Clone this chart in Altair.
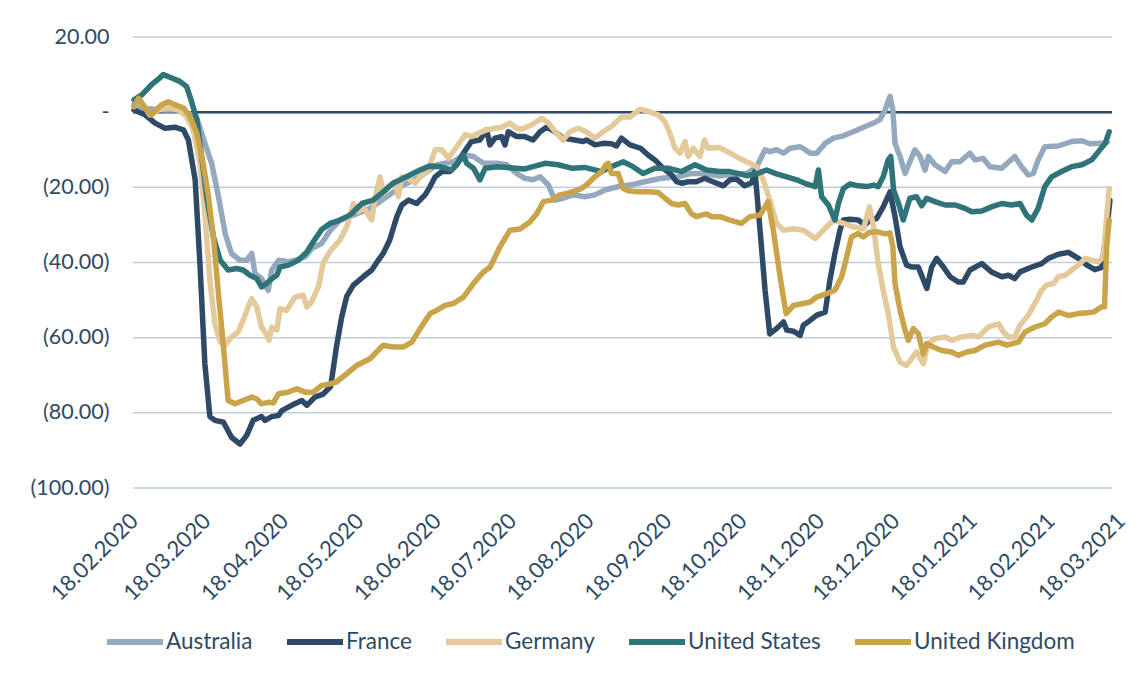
import altair as alt
import pandas as pd

START = pd.Timestamp("2020-02-18")
TEXT = "#2E4A66"

series_names = ["Australia", "France", "Germany", "United States", "United Kingdom"]
series_colors = ["#95A9BE", "#2E4A66", "#E4C99B", "#2E7479", "#C9A44B"]

# days after 18.02.2020
aus_days = [0, 4.4, 12.4, 17.7, 21.7, 25.1, 28.3, 31.0, 33.7, 36.4, 38.9, 42.3, 45.0, 47.0, 48.3, 50.9, 53.6, 55.0,
            57.7, 61.6, 64.3, 68.3, 70.9, 74.9, 78.3, 82.2, 87.6, 94.2, 100.9, 107.6, 114.2, 120.9, 127.5, 131.5,
            135.5, 139.5, 144.9, 148.8, 152.8, 156.0, 159.3, 162.1, 165.4, 168.0, 171.3, 175.3, 179.9, 184.0, 188.0,
            193.3, 198.0, 203.9, 210.6, 217.3, 222.5, 227.8, 233.7, 240.6, 244.6, 248.6, 251.9, 253.8, 256.5, 259.3,
            261.9, 265.9, 267.9, 269.9, 272.6, 275.9, 279.2, 283.2, 287.1, 291.2, 295.2, 297.8, 299.8, 301.8, 302.9,
            303.8, 305.8, 307.8, 311.7, 313.8, 315.8, 317.1, 319.7, 323.8, 326.4, 329.7, 333.7, 335.7, 339.0, 341.7,
            346.4, 351.6, 354.3, 357.0, 359.0, 360.9, 363.6, 369.0, 374.3, 378.4, 381.6, 386.3, 388.5]
aus_vals = [2, 1, 0.6, 0.6, -0.3, -1.6, -8.3, -13.6, -22.5, -32.3, -37.6, -39.4, -39.4, -37.6, -42.9, -44.3, -47.4, -42,
            -39.4, -39.8, -39.4, -38.5, -36.3, -34.9, -31.5, -28.7, -27.4, -25.6, -22.5, -19.4, -17.2, -14, -13.2, -11.4,
            -11.8, -13.6, -13.6, -14, -16.3, -17.6, -18, -17.2, -19.4, -23.4, -22.9, -22, -22.5, -22, -20.7,
            -19.8, -19.4, -18.5, -17.6, -17.2, -16.3, -16.3, -17.0, -16.3, -16.4, -14.5, -10, -10.5, -10, -10.9,
            -9.6, -9.2, -10, -10.9, -10.9, -8.3, -6.9, -6.3, -5.2, -4, -2.9, -2, 0.6, 4.2, 0.6,
            -8.3, -11.8, -16.3, -10, -11.8, -15.4, -11.8, -14, -15.8, -13.2, -13.2, -10.9, -12.7, -12.3, -14.5,
            -14.9, -11.8, -14.5, -16.7, -16.3, -12.7, -9.2, -9, -7.8, -7.6, -8.4, -8.3, -8]

fra_days = [0, 4.4, 8.4, 12.4, 16.3, 19.7, 21.7, 24.4, 26.3, 28.3, 30.3, 32.3, 35.7, 38.9, 42.3, 45.0, 47.6, 50.9, 52.3,
            55.0, 57.7, 59.0, 62.9, 67.0, 69.0, 72.2, 75.5, 78.5, 80.8, 82.9, 84.9, 87.6, 91.5, 94.9, 97.5, 99.5,
            102.1, 104.9, 106.9, 109.6, 112.8, 116.2, 118.2, 120.2, 122.9, 126.1, 128.8, 131.5, 134.7, 138.1, 140.8,
            142.1, 144.1, 146.7, 148.1, 149.4, 152.8, 156.0, 159.3, 162.1, 164.7, 168.0, 171.3, 176.0, 179.3, 180.6,
            184.0, 187.3, 190.6, 192.6, 194.6, 198.0, 202.2, 205.2, 207.9, 211.2, 214.6, 216.6, 218.6, 221.2, 224.5,
            227.8, 231.1, 235.3, 237.9, 240.6, 243.8, 246.6, 247.9, 249.9, 251.9, 253.8, 256.5, 259.3, 260.6, 263.3,
            265.9, 267.2, 269.9, 272.6, 275.9, 277.8, 279.8, 281.8, 283.2, 285.8, 289.1, 291.8, 293.8, 296.4, 299.1,
            301.8, 303.8, 305.8, 308.4, 310.4, 313.1, 316.5, 318.4, 320.4, 323.1, 325.8, 329.0, 331.0, 333.7, 338.4,
            342.3, 346.4, 349.1, 351.6, 353.7, 358.4, 362.3, 365.0, 369.0, 373.0, 377.0, 380.4, 383.6, 386.3, 388.3,
            389.6]
fra_vals = [0.6, -0.7, -2.9, -4.3, -4.0, -4.7, -7.4, -18, -40, -67, -81, -82, -82.5, -86.5, -88.3, -86, -82, -81, -82,
            -81, -80.7, -79.4, -78, -76.7, -78, -75.8, -75, -73, -62.5, -54.5, -49, -46, -43.8, -42, -39.4, -37.6,
            -34, -27.8, -24.7, -23.4, -24.3, -22, -19.8, -17.2, -15.8, -15.8, -14, -10.9, -7.8, -7.4, -4.7,
            -8.7, -6.9, -6.5, -8.7, -5.2, -6.5, -6.5, -7.4, -5.2, -4.0, -5.2, -6.9, -7.4, -7.8, -7.4,
            -8.7, -8.3, -8.4, -9.0, -6.9, -8.7, -9.6, -11.4, -12.7, -14.9, -16.7, -18.5, -18.9, -18.5, -18.5,
            -17.6, -18.5, -19.6, -18, -17.8, -19.6, -18.8, -15.8, -31.4, -47.4, -59, -57.6, -55.8, -58, -58.3,
            -59.4, -56.7, -55.4, -54, -53.2, -44.7, -37.6, -31.4, -28.7, -28.5, -28.7, -30, -28.7, -28.3, -25.2,
            -21.2, -27.8, -35.8, -40.7, -41.2, -41.2, -46.9, -41.2, -38.9, -41.2, -43.8, -45.2, -45.2, -42, -40.3,
            -42.5, -43.8, -43.4, -44.3, -42.5, -41.2, -40.3, -38.9, -37.8, -37.3, -38.9, -40.7, -41.9, -41.3, -31.4,
            -23.4]

ger_days = [0, 2.4, 6.3, 9.7, 13.7, 17.7, 21.0, 23.7, 26.3, 28.3, 30.3, 32.3, 34.4, 36.4, 38.9, 41.6, 43.6, 45.6, 47.0,
            49.0, 50.9, 52.3, 53.9, 55.0, 57.0, 58.3, 60.9, 64.3, 67.6, 69.0, 70.9, 73.6, 75.6, 78.3, 82.2, 84.9,
            87.6, 89.6, 91.5, 94.9, 96.2, 98.2, 99.5, 101.5, 104.1, 105.5, 106.9, 109.6, 112.2, 114.2, 117.5, 120.2,
            122.9, 125.5, 128.8, 132.2, 134.7, 137.4, 140.8, 144.1, 146.7, 150.1, 152.8, 154.8, 158.7, 162.7, 165.4,
            168.7, 171.3, 174.0, 177.3, 180.6, 184.0, 187.3, 190.6, 194.6, 198.0, 201.9, 205.2, 209.3, 211.9, 213.9,
            215.9, 218.0, 220.0, 221.2, 223.2, 225.9, 227.8, 229.2, 233.7, 237.9, 241.8, 245.9, 248.6, 251.2, 253.8,
            256.5, 259.3, 263.3, 267.2, 269.9, 271.9, 273.9, 276.5, 279.2, 283.2, 287.1, 291.2, 292.5, 293.6, 295.2,
            297.1, 299.1, 301.1, 303.2, 305.8, 308.4, 310.4, 312.4, 315.1, 317.0, 319.7, 323.8, 326.4, 330.4, 334.4,
            337.1, 341.0, 345.1, 347.1, 349.1, 351.6, 353.7, 357.0, 359.6, 362.3, 364.3, 367.0, 369.0, 371.7, 374.3,
            377.0, 379.7, 382.3, 385.0, 387.0, 388.3, 389.3]
ger_vals = [1.5, 3.3, -0.7, 0.6, 1.1, 0.6, -1.2, -4.7, -13.6, -26.9, -44.7, -56.3, -61.2, -62, -59.8, -58.5, -55.4, -51.8,
            -49.6, -51.8, -57.2, -58.5, -60.7, -57.2, -58, -52.3, -52.7, -49.2, -48.7, -51.8, -50.5, -46.5, -40, -37,
            -34, -30.5, -24.3, -26.5, -25.2, -28.7, -22.9, -17.2, -21.6, -19.8, -18.5, -22.5, -17.2, -17.6, -18.9,
            -17.2, -15.4, -10, -10, -12.3, -9.2, -6, -6.5, -5.6, -4.7, -4.3, -4, -2.9, -4.3, -4.5, -3.4, -1.6, -2.9,
            -5.6, -7.4, -5.2, -4.3, -5.2, -6.9, -5.2, -3.8, -1.3, -1.3, 0.8, 0.2, -0.7, -2.5, -5.6, -9.6, -10.9,
            -7.8, -11.8, -9.6, -11.8, -7.4, -9.6, -9.4, -10.9, -12.3, -13.6, -14.5, -18, -23.4, -29.6, -31.4, -31,
            -31.4, -32.7, -33.6, -32.3, -30.5, -28.7, -29.6, -30.5, -31, -27.8, -25.2, -30.5, -40.3, -47.4, -53.6,
            -62.5, -66.5, -67.4, -65.6, -63.8, -66.9, -61.6, -60.3, -59.8, -60.7, -59.8, -59.4, -59.8, -57.2, -56.3,
            -58.5, -59.8, -59.8, -56.7, -54, -50.9, -47.4, -46, -45.6, -43.8, -43.4, -42, -40.7, -38.9, -39.4, -39.8,
            -38.5, -27.8, -20.3]

usa_days = [0, 3.1, 7.0, 9.7, 11.7, 15.1, 18.3, 21.0, 23.0, 25.1, 27.0, 29.0, 31.7, 34.4, 37.6, 41.0, 43.6, 46.3, 49.0,
            50.9, 52.9, 55.0, 57.0, 58.3, 61.6, 65.6, 69.0, 71.6, 74.9, 78.3, 82.2, 86.2, 91.0, 95.5, 99.5, 103.4,
            108.8, 114.2, 118.2, 122.2, 126.8, 130.2, 131.5, 132.8, 135.5, 138.1, 140.2, 144.9, 150.1, 156.0, 164.1,
            169.3, 174.7, 179.9, 186.7, 190.6, 195.3, 199.2, 203.2, 207.9, 213.2, 218.6, 223.9, 228.6, 233.7, 237.9,
            244.6, 248.6, 252.5, 256.5, 260.6, 264.5, 268.5, 271.9, 273.2, 274.5, 277.2, 279.8, 281.2, 283.2, 285.8,
            289.1, 292.5, 295.2, 297.1, 299.1, 301.1, 302.1, 303.2, 305.2, 307.1, 309.7, 312.4, 314.4, 316.4, 319.7,
            323.8, 327.8, 331.7, 334.4, 338.4, 342.3, 346.4, 350.3, 353.7, 356.3, 358.4, 360.9, 363.6, 366.3, 370.3,
            374.3, 378.4, 382.3, 385.0, 387.7, 389.3]
usa_vals = [3.3, 4.6, 7.3, 8.8, 10, 9.1, 8.2, 6.8, 2.8, -2, -11.8, -22.5, -33.2, -39.4, -42, -41.6, -42, -43.4, -44.3,
            -46.5, -45.6, -44.3, -43.4, -41.2, -40.7, -39.4, -37.2, -34.5, -31.2, -29.6, -28.7, -27.4, -24.3, -23.4,
            -21.2, -18.9, -17.2, -15.4, -14.3, -14.5, -15.4, -12.7, -11.4, -13.6, -14.9, -18, -14.9, -14.5, -14.8,
            -15.1, -13.6, -14, -14.9, -14.7, -15.8, -14.5, -13.2, -14.5, -16.3, -14.9, -14.9, -15.8, -14, -15.4,
            -15.8, -15.8, -16.9, -16.4, -15.4, -16.4, -17.2, -18, -19.1, -19.8, -15.4, -22.5, -24.7, -28.7, -24.3,
            -20.3, -19.1, -19.6, -19.8, -19.4, -19.8, -17.2, -12.7, -11.8, -20.7, -24.3, -28.7, -22.9, -22.5, -24.9,
            -22.9, -23.8, -24.7, -24.7, -25.6, -26.5, -26.3, -25.2, -24.3, -24.7, -24.3, -27.4, -28.7, -25.6, -19.8,
            -17.2, -15.8, -14.5, -14, -12.7, -10.5, -8.3, -5.2]

gbr_days = [0, 1.8, 4.4, 7.0, 11.0, 13.7, 16.3, 19.7, 22.4, 25.1, 27.6, 29.7, 31.7, 33.7, 35.7, 37.6, 40.3, 43.6, 47.0,
            49.0, 50.9, 53.6, 55.6, 57.7, 61.6, 65.0, 68.3, 71.6, 74.9, 78.3, 80.8, 84.9, 88.9, 94.2, 99.5, 103.4,
            107.4, 110.9, 114.2, 118.2, 120.9, 124.1, 127.5, 131.5, 135.5, 139.5, 142.2, 146.1, 150.1, 154.1, 158.0,
            160.8, 163.4, 166.7, 170.0, 174.0, 178.0, 180.6, 184.0, 186.7, 188.3, 189.3, 190.6, 193.3, 195.3, 197.3,
            201.3, 205.3, 209.3, 211.9, 214.6, 217.3, 220.0, 222.5, 224.5, 226.5, 228.6, 230.6, 233.9, 237.9, 242.5,
            245.9, 249.9, 253.1, 255.2, 257.9, 260.3, 263.3, 267.2, 269.9, 272.6, 276.5, 279.8, 282.5, 284.5, 286.4,
            289.1, 291.2, 293.2, 296.4, 299.8, 301.8, 302.9, 303.8, 305.8, 307.8, 309.1, 311.1, 313.1, 315.1, 316.4,
            319.1, 322.4, 326.4, 329.0, 332.4, 335.7, 339.7, 345.1, 348.4, 353.0, 355.7, 359.6, 363.6, 366.3, 369.0,
            373.0, 377.0, 380.4, 383.0, 386.3, 387.4, 388.3, 389.3]
gbr_vals = [1.5, 3.7, 1.1, -0.7, 2, 2.8, 2, 1.1, -1.2, -5.6, -13.6, -22.5, -33.2, -48.3, -62.5, -76.7, -77.6, -76.7,
            -75.8, -76.3, -77.6, -77.2, -77.4, -74.9, -74.5, -73.6, -74.5, -74.5, -72.7, -72.3, -71.8, -69.6, -67.4,
            -65.6, -62, -62.5, -62.5, -61.2, -57.6, -53.6, -52.7, -51.4, -50.9, -49.2, -45.6, -42.5, -41.2, -35.8,
            -31.4, -31.1, -29.2, -27, -23.8, -23.4, -22, -21.4, -20.5, -19.4, -17.2, -15.8, -14, -13.6, -16.3, -16.3,
            -20.3, -20.9, -21.2, -21.2, -21.4, -22.9, -24.3, -24.7, -24.3, -27, -27.8, -27.4, -27.1, -27.8, -27.8,
            -28.7, -29.6, -27.8, -27.4, -23.8, -31.4, -43.8, -53.6, -51.4, -50.9, -50.5, -49.2, -48.3, -47.4, -43.8,
            -38.5, -33.2, -32.3, -33.2, -32.1, -31.8, -32.4, -32.1, -35.8, -45.6, -52.7, -58, -60.7, -57.6, -58.9,
            -64.3, -61.6, -62.5, -63.4, -63.8, -64.7, -63.8, -63.4, -62, -61.2, -62, -61.2, -58.5, -57.2, -56.3,
            -54.5, -53.2, -54.1, -53.6, -53.4, -53.2, -51.8, -51.8, -35.8, -28.7]

y_ticks = [20, 0, -20, -40, -60, -80, -100]
grid_vals = [20, -20, -40, -60, -80, -100]
tick_months = [(2020, m) for m in range(2, 13)] + [(2021, 1), (2021, 2), (2021, 3)]

rows = []
for name, days, vals in zip(series_names,
                            [aus_days, fra_days, ger_days, usa_days, gbr_days],
                            [aus_vals, fra_vals, ger_vals, usa_vals, gbr_vals]):
    for d, v in zip(days, vals):
        ts = START + pd.Timedelta(hours=round(d * 24))
        rows.append({"date": ts.strftime("%Y-%m-%dT%H:%M:%S"), "value": v, "country": name})
df = pd.DataFrame(rows)

grid_df = pd.DataFrame({"v": grid_vals})
zero_df = pd.DataFrame({"v": [0]})

x_scale = alt.Scale(domain=[alt.DateTime(year=2020, month=2, date=18),
                            alt.DateTime(year=2021, month=3, date=18)], nice=False)
y_scale = alt.Scale(domain=[-100, 20], nice=False, zero=False)

y_axis = alt.Axis(values=y_ticks, grid=False, domain=False, ticks=False, tickSize=0, labelPadding=25,
                  title=None, labelFont="Lato", labelFontSize=21.5, labelColor=TEXT,
                  labelExpr="datum.value == 0 ? '-\u00a0\u00a0\u00a0' : (datum.value < 0 ? '(' + format(-datum.value, '.2f') + ')' : format(datum.value, '.2f') + '\u00a0')")

x_axis = alt.Axis(values=[alt.DateTime(year=y, month=m, date=18) for y, m in tick_months],
                  format="%d.%m.%Y", labelAngle=-45, labelAlign="right", labelBaseline="middle",
                  labelPadding=29, ticks=False, tickSize=0, domain=False, grid=False, title=None,
                  labelFont="Lato", labelFontSize=22, labelColor=TEXT, labelOverlap=False)

grid = alt.Chart(grid_df).mark_rule(color="#C0CEDB", strokeWidth=1.5).encode(
    y=alt.Y("v:Q", scale=y_scale, axis=y_axis),
    x=alt.value(-1), x2=alt.value(978),
)
zero = alt.Chart(zero_df).mark_rule(color=TEXT, strokeWidth=2.5).encode(
    y=alt.Y("v:Q", scale=y_scale, axis=y_axis),
    x=alt.value(-1), x2=alt.value(978),
)
lines = alt.Chart(df).mark_line(strokeWidth=5.5, strokeJoin="round", strokeCap="round").encode(
    x=alt.X("date:T", scale=x_scale, axis=x_axis),
    y=alt.Y("value:Q", scale=y_scale, axis=y_axis),
    color=alt.Color("country:N", scale=alt.Scale(domain=series_names, range=series_colors),
                    legend=alt.Legend(orient="none", legendX=-30, legendY=574, direction="horizontal",
                                      columns=5, title=None, symbolType="stroke", symbolSize=3136,
                                      symbolStrokeWidth=6, labelFont="Lato", labelFontSize=22.5,
                                      labelColor=TEXT, columnPadding=22, labelOffset=0, padding=0,
                                      labelLimit=400)),
)

chart = alt.layer(grid, zero, lines).properties(
    width=987, height=451,
    autosize=alt.AutoSizeParams(type="none"),
    padding={"left": 126, "top": 29, "right": 15, "bottom": 175},
).configure_view(stroke=None)

chart.save("out.html", embed_options={"renderer": "svg", "actions": False})
